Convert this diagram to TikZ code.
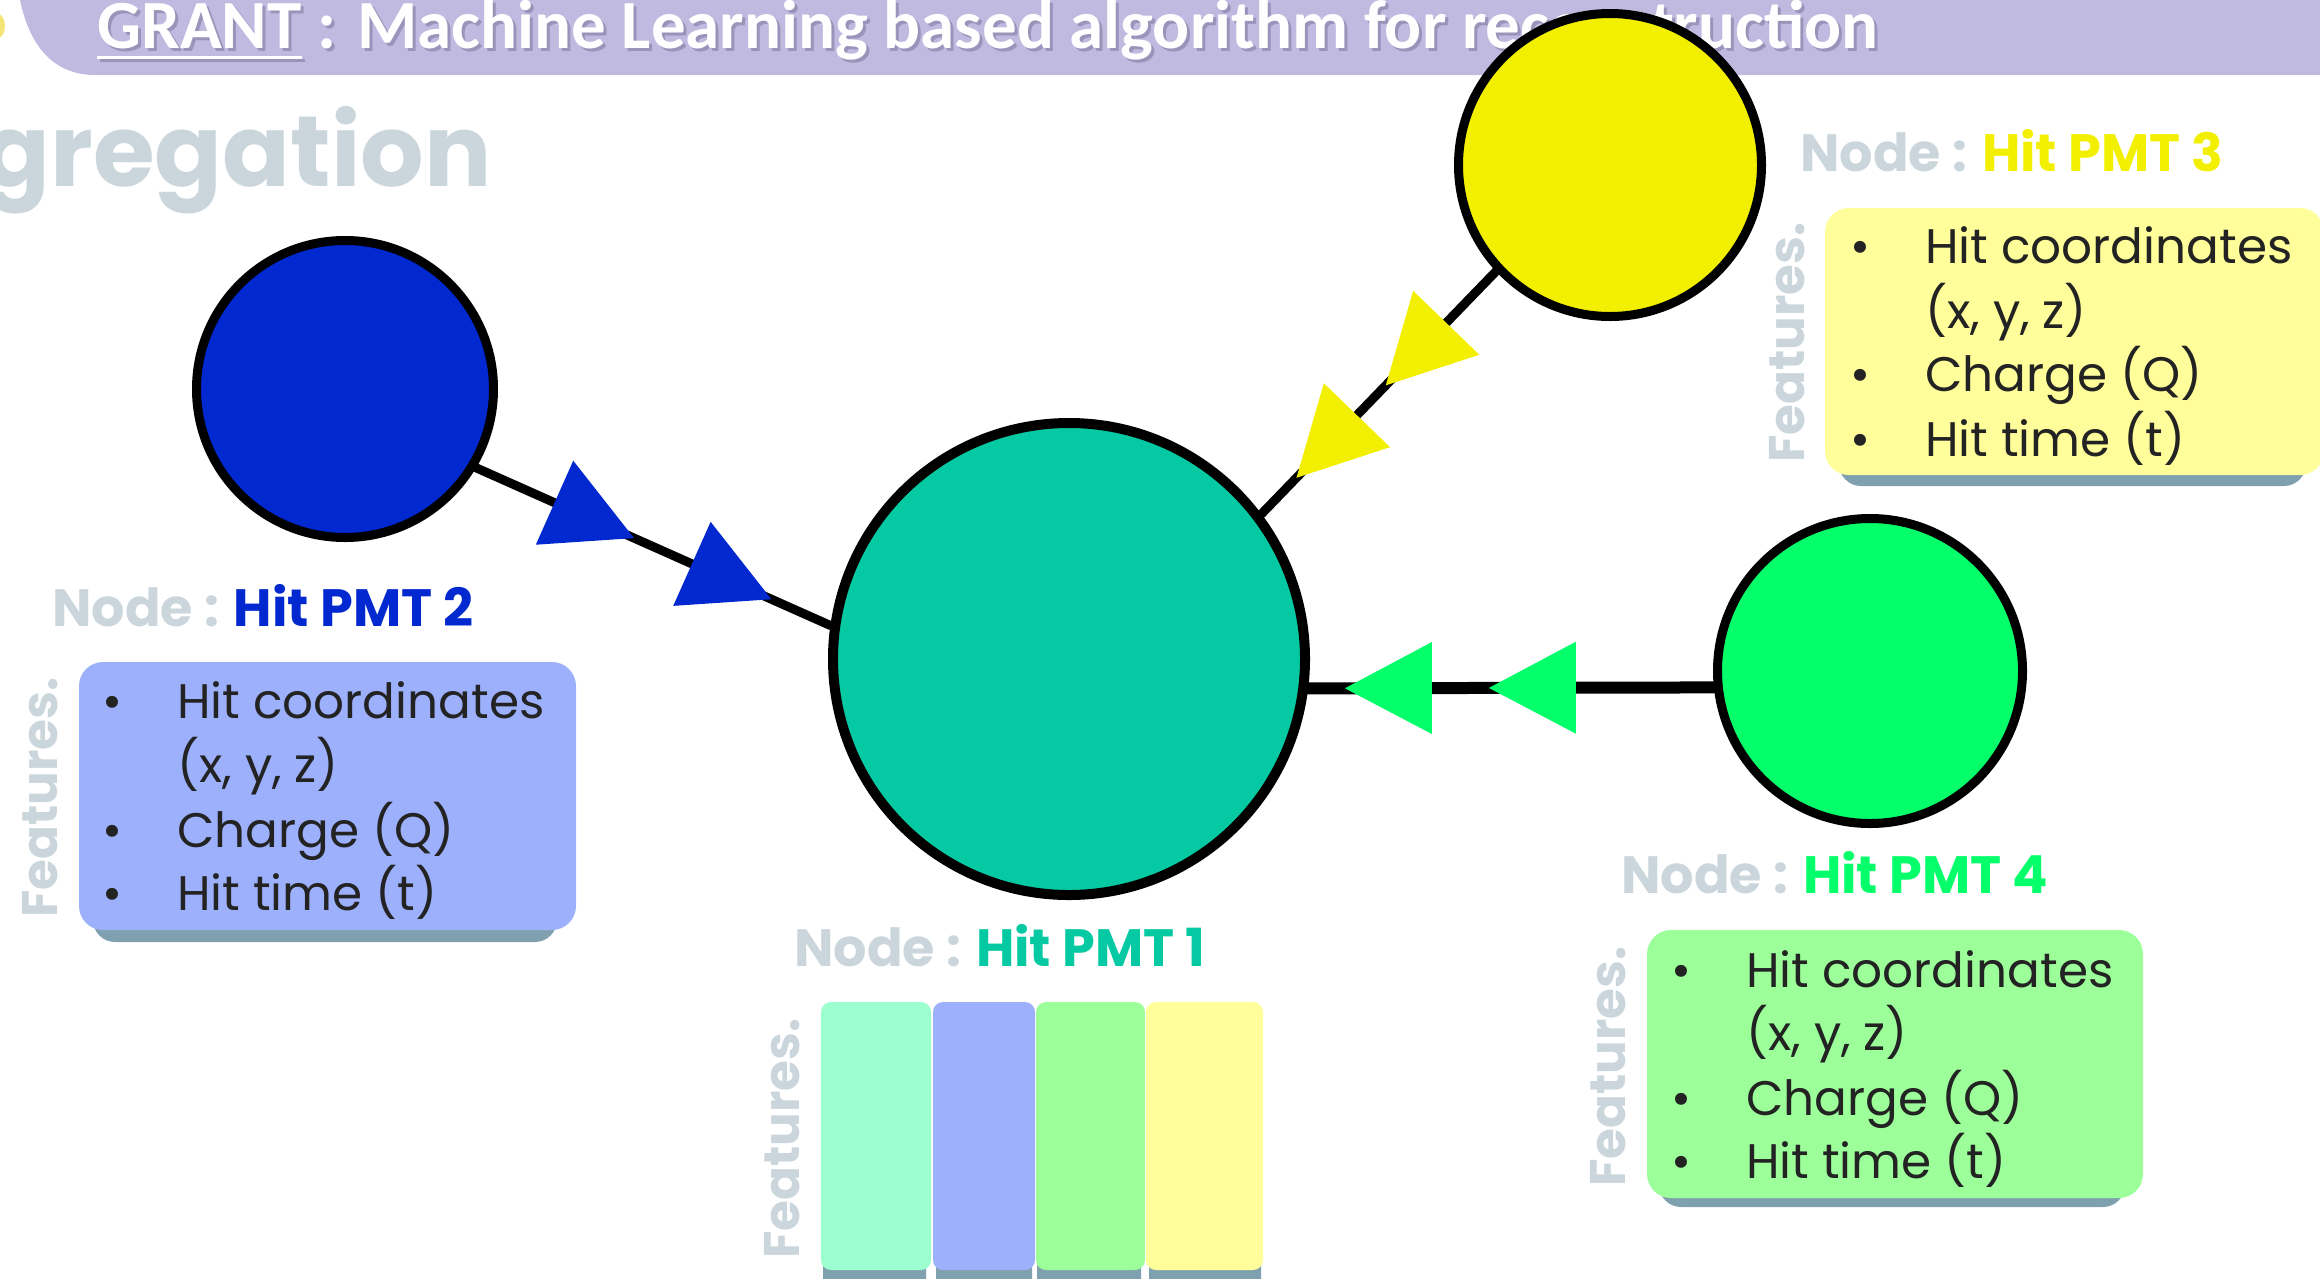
\documentclass[tikz,border=0pt]{standalone}
\usepackage{fontspec}
\setmainfont{Poppins}
\newfontfamily\titlefont{Carlito}
\usetikzlibrary{decorations.markings}
\definecolor{bannerc}{RGB}{193,186,224}
\definecolor{titleshc}{RGB}{110,100,140}
\definecolor{grayc}{RGB}{203,214,220}
\definecolor{pmtblue}{RGB}{2,40,208}
\definecolor{pmtteal}{RGB}{4,201,163}
\definecolor{pmtyellow}{RGB}{242,240,0}
\definecolor{pmtgreen}{RGB}{5,255,106}
\definecolor{boxblue}{RGB}{156,176,252}
\definecolor{boxyellow}{RGB}{255,254,154}
\definecolor{boxgreen}{RGB}{156,255,154}
\definecolor{boxmint}{RGB}{156,255,208}
\definecolor{shadowc}{RGB}{127,160,175}
\definecolor{textc}{RGB}{35,35,35}
\definecolor{sliverc}{RGB}{245,228,120}
\newcommand\featbul{\makebox[75pt][l]{•}}
\pgfdeclarelayer{back}
\pgfdeclarelayer{edges}
\pgfsetlayers{back,edges,main}
\begin{document}
\begin{tikzpicture}[x=1pt,y=-1pt,
  pmtnode/.style={circle, draw=black, line width=9pt, inner sep=0pt},
  titletext/.style={font=\titlefont\fontsize{69}{80}\selectfont\bfseries, text=white, anchor=base west, inner sep=0pt},
  titleshadow/.style={font=\titlefont\fontsize{69}{80}\selectfont\bfseries, text=titleshc, opacity=0.45, anchor=base west, inner sep=0pt},
  featlabel/.style={font=\fontsize{50}{60}\selectfont\bfseries, text=grayc, rotate=90, anchor=base west, inner sep=0pt},
  nodelabel/.style={font=\fontsize{52.5}{60}\selectfont\bfseries, text=grayc, anchor=base west, inner sep=0pt},
  itemtext/.style={font=\fontsize{48.5}{60}\selectfont, text=textc, anchor=base west, inner sep=0pt},
  edgeline/.style={draw=black, line width=#1, line cap=round},
  twotri/.style n args={3}{postaction={decorate}, decoration={markings,
      mark=at position #1 with {\fill[#3] (0pt,0pt) -- (-87pt,46pt) -- (-87pt,-46pt) -- cycle;},
      mark=at position #2 with {\fill[#3] (0pt,0pt) -- (-87pt,46pt) -- (-87pt,-46pt) -- cycle;}}},
  shadowbox/.style={fill=shadowc, rounded corners=22pt},
  featbox/.style={rounded corners=24pt},
  stripshadow/.style={fill=shadowc, rounded corners=8pt},
  strip/.style={rounded corners=10pt}
]
\useasboundingbox (0,0) rectangle (2320,1278);
\clip (0,0) rectangle (2320,1278);

% ---------- banner ----------
\begin{pgfonlayer}{back}
\fill[bannerc] (20,0) -- (2340,0) -- (2340,75) -- (95,75) .. controls (55,75) and (30,48) .. (20,0) -- cycle;
\fill[sliverc] (-2,26) ellipse [x radius=7, y radius=12];
\node[titleshadow] (grantsh) at (100,51) {GRANT};
\node[titleshadow] (titlesh) at (grantsh.base east) {\ : Machine Learning based algorithm for reconstruction};
\draw[titleshc, opacity=0.45, line width=3.5pt] ([yshift=-9.5pt]grantsh.base west) -- ([yshift=-9.5pt]grantsh.base east);
\node[titletext] (grant) at (97,48) {GRANT};
\node[titletext] (title) at (grant.base east) {\ : Machine Learning based algorithm for reconstruction};
\draw[white, line width=3.5pt] ([yshift=-9.5pt]grant.base west) -- ([yshift=-9.5pt]grant.base east);
\node[font=\fontsize{100}{110}\selectfont\bfseries, text=grayc, anchor=base east, inner sep=0pt] (agg) at (492,186) {gregation};
\end{pgfonlayer}

% ---------- PMT nodes ----------
\node[pmtnode, fill=pmtblue, minimum size=297pt] (p2) at (345,389) {};
\node[pmtnode, line width=10pt, fill=pmtteal, minimum size=472pt] (p1) at (1069,659) {};
\node[pmtnode, fill=pmtyellow, minimum size=303pt] (p3) at (1610,165) {};
\node[pmtnode, fill=pmtgreen, minimum size=305pt] (p4) at (1870,671) {};

% ---------- edges ----------
\begin{pgfonlayer}{edges}
\draw[edgeline=9pt, twotri={172.8pt}{323.2pt}{pmtblue}] (p2.-31.4) -- (p1.172.4);
\draw[edgeline=9pt, twotri={158.5pt}{287pt}{pmtyellow}] (p3.223.7) -- (p1.37.4);
\draw[edgeline=12pt, twotri={225pt}{369pt}{pmtgreen}] (p4.186.9) -- (p1.-7.4);
\end{pgfonlayer}

% ---------- PMT 2 features ----------
\node[nodelabel] (l2) at (52,626) {Node : \textcolor{pmtblue}{Hit PMT 2}};
\fill[shadowbox] (93,880) rectangle (557,942);
\fill[featbox, fill=boxblue] (79,662) rectangle (576,930);
\node[featlabel] (f2) at (57,918) {Features.};
\node[itemtext] (i2a) at (102,718) {\featbul Hit coordinates};
\node[itemtext] (i2b) at (177,782) {(x, y, z)};
\node[itemtext] (i2c) at (102,847) {\featbul Charge (Q)};
\node[itemtext] (i2d) at (102,910) {\featbul Hit time (t)};

% ---------- PMT 3 features ----------
\node[nodelabel] (l3) at (1800,171) {Node : \textcolor{pmtyellow}{Hit PMT 3}};
\fill[shadowbox] (1839,440) rectangle (2306,486);
\fill[featbox, fill=boxyellow] (1825,208) rectangle (2324,475);
\node[featlabel] (f3) at (1804,463) {Features.};
\node[itemtext] (i3a) at (1850,263) {\featbul Hit coordinates};
\node[itemtext] (i3b) at (1925,328) {(x, y, z)};
\node[itemtext] (i3c) at (1850,391) {\featbul Charge (Q)};
\node[itemtext] (i3d) at (1850,456) {\featbul Hit time (t)};

% ---------- PMT 4 features ----------
\node[nodelabel] (l4) at (1621,893) {Node : \textcolor{pmtgreen}{Hit PMT 4}};
\fill[shadowbox] (1659,1160) rectangle (2125,1207);
\fill[featbox, fill=boxgreen] (1647,930) rectangle (2143,1198);
\node[featlabel] (f4) at (1625,1187) {Features.};
\node[itemtext] (i4a) at (1671,987) {\featbul Hit coordinates};
\node[itemtext] (i4b) at (1746,1050) {(x, y, z)};
\node[itemtext] (i4c) at (1671,1115) {\featbul Charge (Q)};
\node[itemtext] (i4d) at (1671,1178) {\featbul Hit time (t)};

% ---------- PMT 1 aggregated features ----------
\node[nodelabel] (l1) at (794,966) {Node : \textcolor{pmtteal}{Hit PMT 1}};
\node[featlabel] (f1) at (799,1259) {Features.};
\fill[stripshadow] (823,1240) rectangle (926,1295);
\fill[stripshadow] (936,1240) rectangle (1032,1295);
\fill[stripshadow] (1037,1240) rectangle (1141,1295);
\fill[stripshadow] (1149,1240) rectangle (1261,1295);
\fill[strip, fill=boxmint] (821,1002) rectangle (931,1270);
\fill[strip, fill=boxblue] (933,1002) rectangle (1035,1270);
\fill[strip, fill=boxgreen] (1036,1002) rectangle (1145,1270);
\fill[strip, fill=boxyellow] (1146,1002) rectangle (1263,1270);
\end{tikzpicture}
\end{document}
